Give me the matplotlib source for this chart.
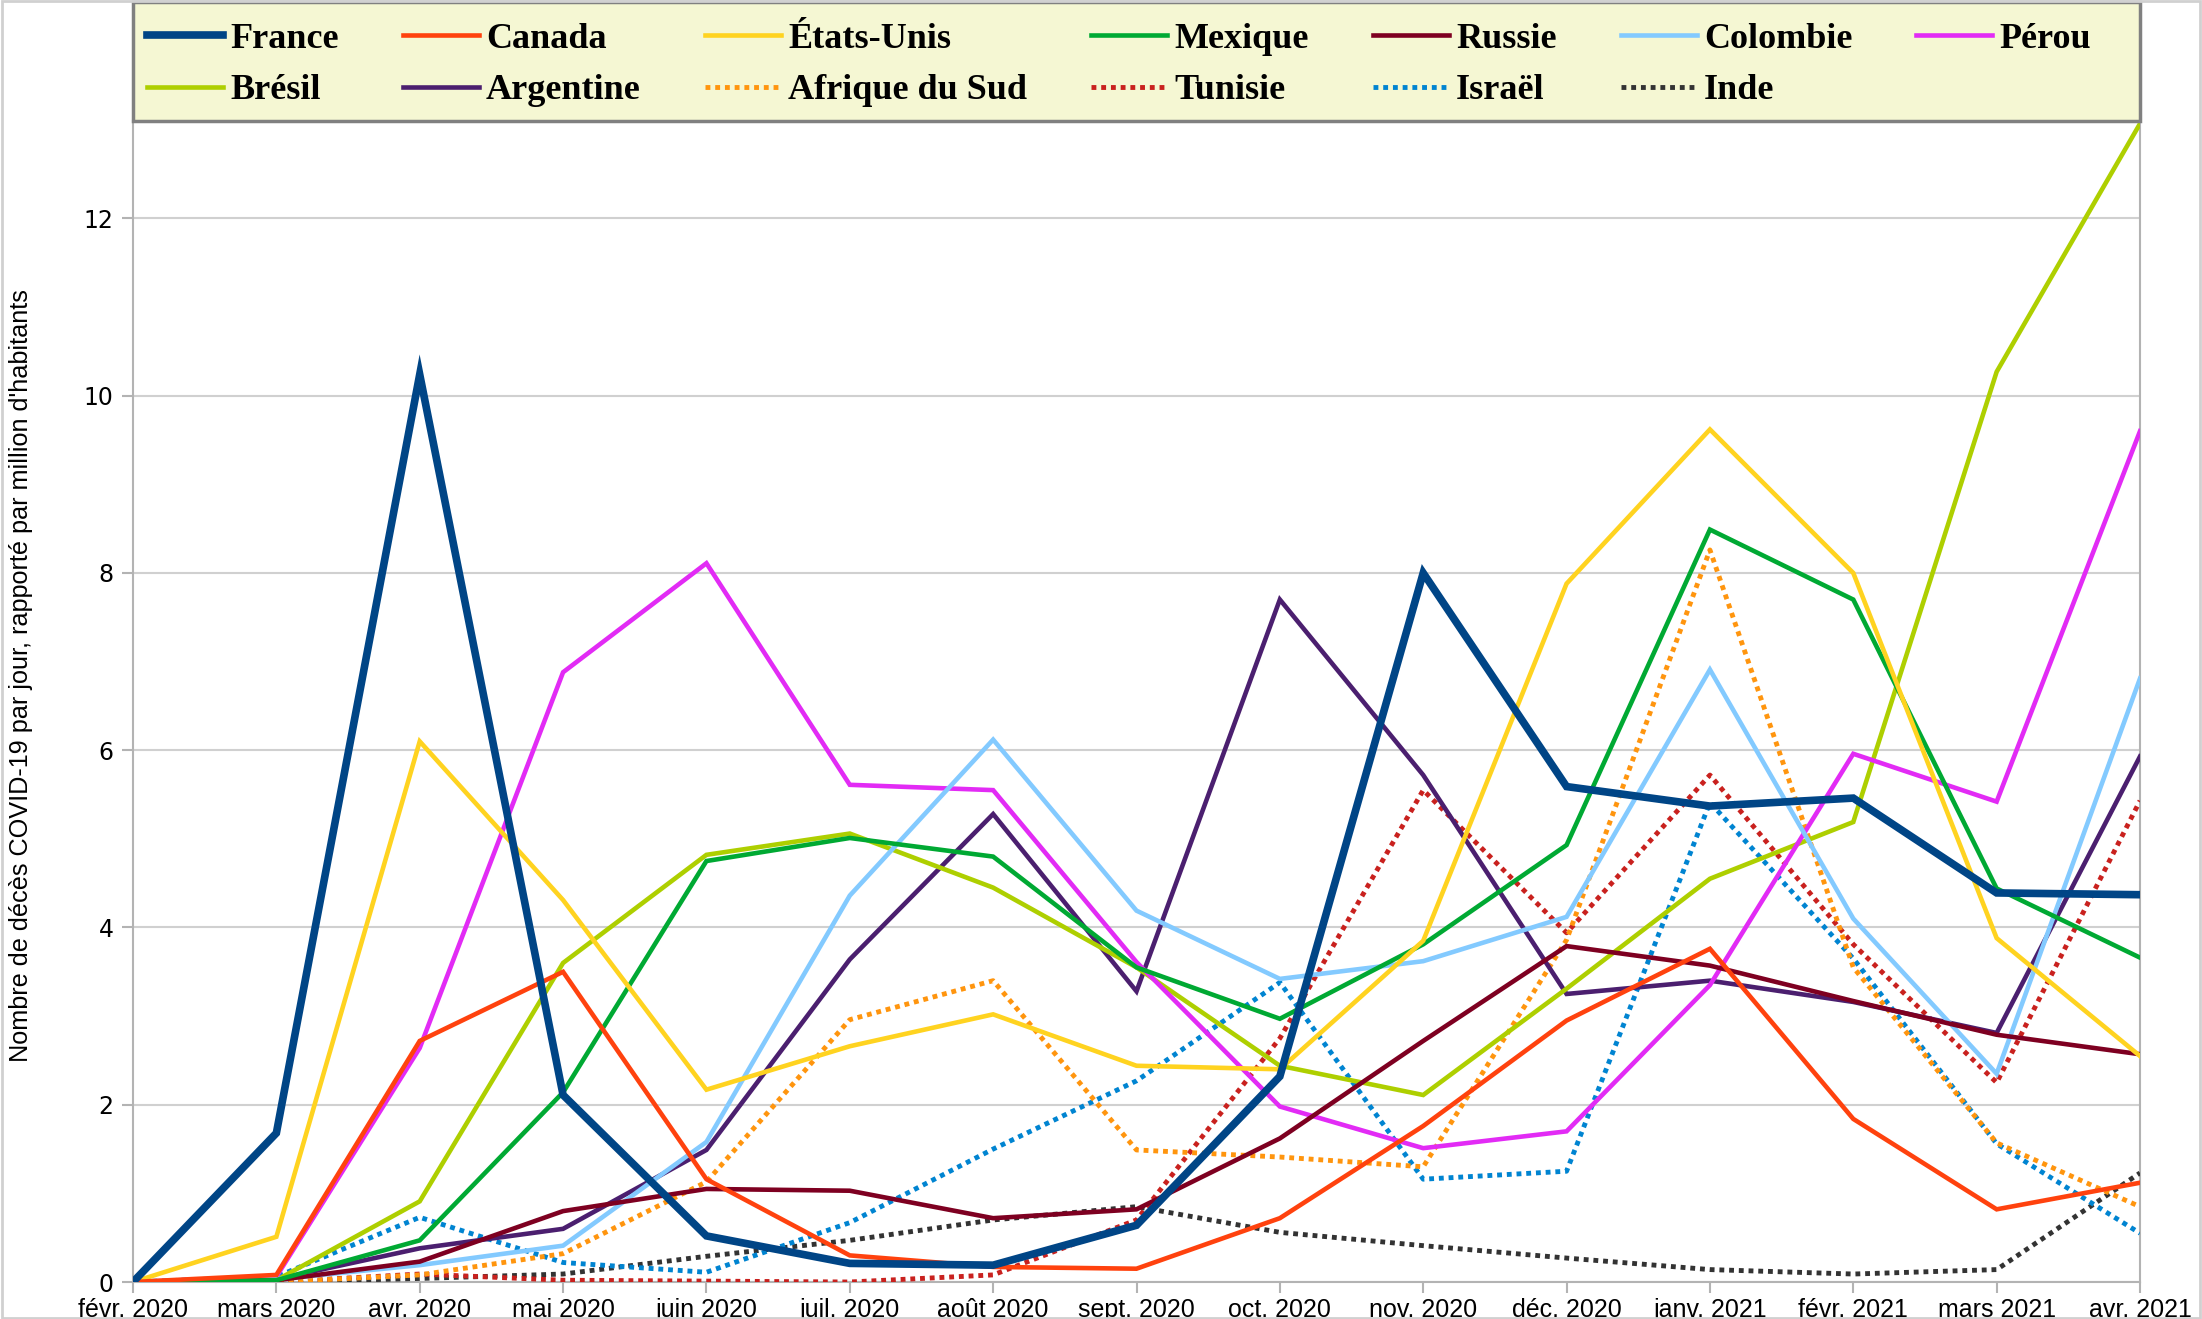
import numpy as np
import matplotlib.pyplot as plt

months = ["févr. 2020", "mars 2020", "avr. 2020", "mai 2020", "juin 2020",
          "juil. 2020", "août 2020", "sept. 2020", "oct. 2020", "nov. 2020",
          "déc. 2020", "janv. 2021", "févr. 2021", "mars 2021", "avr. 2021"]

france = [0, 1.68, 10.24, 2.11, 0.52, 0.21, 0.19, 0.64, 2.32, 8.0, 5.59, 5.37, 5.46, 4.39, 4.37]
canada = [0, 0.08, 2.72, 3.50, 1.16, 0.30, 0.17, 0.15, 0.72, 1.76, 2.95, 3.76, 1.84, 0.82, 1.12]
etats_unis = [0, 0.51, 6.10, 4.31, 2.17, 2.66, 3.02, 2.44, 2.40, 3.85, 7.88, 9.62, 8.0, 3.88, 2.55]
mexique = [0, 0.02, 0.47, 2.14, 4.75, 5.01, 4.80, 3.55, 2.97, 3.81, 4.93, 8.49, 7.70, 4.44, 3.66]
russie = [0, 0.02, 0.23, 0.80, 1.05, 1.03, 0.72, 0.82, 1.62, 2.72, 3.79, 3.57, 3.17, 2.79, 2.57]
colombie = [0, 0.03, 0.19, 0.41, 1.58, 4.36, 6.12, 4.19, 3.42, 3.62, 4.12, 6.91, 4.10, 2.35, 6.81]
perou = [0, 0.06, 2.64, 6.88, 8.11, 5.61, 5.55, 3.61, 1.98, 1.51, 1.70, 3.35, 5.96, 5.42, 9.60]
bresil = [0, 0.02, 0.91, 3.60, 4.82, 5.06, 4.45, 3.55, 2.44, 2.11, 3.31, 4.55, 5.19, 10.27, 13.07]
argentine = [0, 0.03, 0.38, 0.60, 1.49, 3.64, 5.28, 3.28, 7.70, 5.72, 3.25, 3.40, 3.16, 2.81, 5.93]
afrique_sud = [0, 0.0, 0.08, 0.32, 1.13, 2.96, 3.40, 1.49, 1.41, 1.30, 3.86, 8.26, 3.55, 1.57, 0.85]
tunisie = [0, 0.0, 0.09, 0.02, 0.01, 0.0, 0.08, 0.70, 2.75, 5.55, 3.94, 5.72, 3.81, 2.25, 5.43]
israel = [0, 0.06, 0.73, 0.22, 0.11, 0.67, 1.50, 2.27, 3.38, 1.16, 1.25, 5.41, 3.65, 1.56, 0.55]
inde = [0, 0.0, 0.04, 0.09, 0.29, 0.47, 0.70, 0.85, 0.56, 0.41, 0.27, 0.14, 0.09, 0.14, 1.23]

# (label, data, color, dotted, width) in legend order (column-major fill)
series = [
    ("France", france, "#004586", False, 5.5),
    ("Brésil", bresil, "#aecf00", False, 3.3),
    ("Canada", canada, "#ff420e", False, 3.3),
    ("Argentine", argentine, "#4b1f6f", False, 3.3),
    ("États-Unis", etats_unis, "#ffd320", False, 3.3),
    ("Afrique du Sud", afrique_sud, "#ff950e", True, 3.5),
    ("Mexique", mexique, "#00a933", False, 3.3),
    ("Tunisie", tunisie, "#c9211e", True, 3.5),
    ("Russie", russie, "#7e0021", False, 3.3),
    ("Israël", israel, "#0084d1", True, 3.5),
    ("Colombie", colombie, "#83caff", False, 3.3),
    ("Inde", inde, "#333333", True, 3.5),
    ("Pérou", perou, "#e22bf5", False, 3.3),
]

# drawing order roughly as in the original (France on top)
draw_order = ["Inde", "Israël", "Tunisie", "Afrique du Sud", "Argentine", "Brésil",
              "Pérou", "Colombie", "Russie", "Mexique", "États-Unis", "Canada", "France"]

W, H = 2202, 1319
fig = plt.figure(figsize=(W / 100, H / 100), dpi=100)
left, right = 133 / W, 2140 / W
bottom, top = 1 - 1282 / H, 1 - 121 / H
ax = fig.add_axes([left, bottom, right - left, top - bottom])

x = np.arange(len(months))
handles = {}
for label, vals, color, dotted, lw in series:
    ls = (0, (1, 1)) if dotted else "-"
    (ln,) = ax.plot(x, vals, color=color, lw=lw, ls=ls, label=label,
                    solid_joinstyle="miter", dash_capstyle="butt",
                    zorder=3 + draw_order.index(label))
    handles[label] = ln

ax.set_xlim(0, len(months) - 1)
ax.set_ylim(0, 13.1)
ax.set_yticks(np.arange(0, 13, 2))
ax.set_xticks(x)
ax.set_xticklabels(months, family="Liberation Sans", fontsize=18)
for t in ax.get_yticklabels():
    t.set_fontsize(17)
ax.yaxis.grid(True, color="#d0d0d0", lw=1.5)
ax.set_axisbelow(True)
ax.tick_params(axis="both", color="#b3b3b3", length=8, width=1.5)
ax.tick_params(axis="y", pad=6)
for s in ax.spines.values():
    s.set_color("#b3b3b3")
    s.set_linewidth(1.5)

ax.set_ylabel("Nombre de décès COVID-19 par jour, rapporté par million d'habitants",
              family="Liberation Sans", fontsize=18.2)
ax.yaxis.set_label_coords(-0.05, 0.522)

# legend box above the plot
fig.patches.append(plt.Rectangle((left, top), right - left, 1 - top - 2 / H,
                                 transform=fig.transFigure, facecolor="#f5f7d3",
                                 edgecolor="#808080", lw=2.5, zorder=0))

leg = fig.legend([handles[s[0]] for s in series], [s[0] for s in series],
                 loc="center left", ncol=7,
                 bbox_to_anchor=(147 / W, 1 - 65 / H),
                 prop={"family": "Liberation Serif", "weight": "bold", "size": 26},
                 handlelength=2.1, handletextpad=0.2, labelspacing=0.5,
                 columnspacing=1.78, borderpad=0, borderaxespad=0, frameon=False)

fig.patches.append(plt.Rectangle((0.001, 0.001), 0.998, 0.998, transform=fig.transFigure,
                                 fill=False, edgecolor="#d0d0d0", lw=2))

fig.savefig("out.png", dpi=100)
